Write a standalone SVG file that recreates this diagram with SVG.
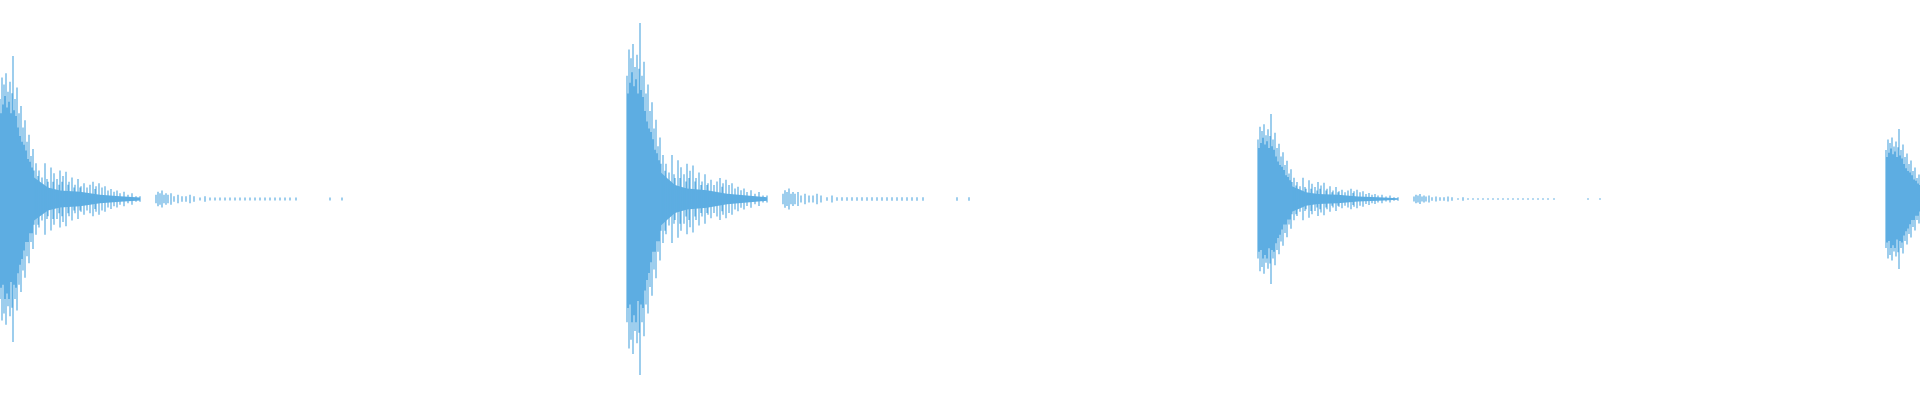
<svg xmlns="http://www.w3.org/2000/svg" width="1920" height="400" viewBox="0 0 1920 400">
<style>.w{stroke:#5dade2;stroke-width:1.2;fill:none;vector-effect:non-scaling-stroke}.f{fill:#5dade2}</style>
<defs>
<g id="burst">
<path class="f" d="M0-24L8-26L16-22L24-20L32-16L40-12L48-8L60-6L80-5L100-3L120-2L140-1L140 1L120 2L100 3L80 5L60 6L48 8L40 12L32 16L24 20L16 22L8 26L0 24Z"/>
<path class="w" d="M0-70V70M1-60V62M2-85V85M3-66V60M4-80V80M5-72V70M6-88V88M7-64V66M8-75V75M9-68V70M10-82V82M11-60V58M12-74V76M13-100V100M14-62V60M15-70V70M16-58V62M17-78V78M18-50V52M19-60V60M20-44V46M21-65V65M22-40V42M23-50V50M24-38V36M25-55V55M26-34V30M27-40V40M28-28V30M29-45V45M30-26V24M31-30V30M32-22V24M33-35V35M34-20V18M36-25V25M38-16V18M39-20V20M42-15V15M45-25V25M47-14V14M48-12V12M51-22V22M53-12V14M54-18V18M57-14V14M59-10V10M60-20V20M62-12V12M63-16V16M66-19V19M68-10V10M69-12V12M72-15V15M74-8V8M75-10V10M78-14V14M80-8V8M81-9V9M84-11V11M87-8V8M90-10V10M93-12V12M95-7V7M96-9V9M99-11V11M102-8V8M105-9V9M108-6V6M111-7V7M114-5V5M117-6V6M120-4V4M124-5V5M128-3V3M132-4V4M136-2V2M140-2V2M156-3V3M158-5V5M160-4V4M162-6V6M164-3V3M166-4V4M168-3V3M171-4V4M174-2V2M178-3V3M182-2V2M186-2V2M190-3V3M194-2V2M200-1V1M205-2V2M210-1V1M215-1V1M220-1V1M225-1V1M230-1V1M235-1V1M240-1V1M245-1V1M250-1V1M255-1V1M260-1V1M265-1V1M270-1V1M275-1V1M280-1V1M285-1V1M290-1V1M296-1V1M330-1V1M342-1V1"/>
</g>
</defs>
<rect width="1920" height="400" fill="#fff"/>
<g id="burst-1"><use href="#burst" transform="translate(0,199) scale(1,1.43)"/></g>
<g id="burst-2"><use href="#burst" transform="translate(627,199) scale(1,1.76)"/></g>
<g id="burst-3"><use href="#burst" transform="translate(1258,199) scale(1,0.85)"/></g>
<g id="burst-4"><use href="#burst" transform="translate(1886,199) scale(1,0.7)"/></g>
</svg>
